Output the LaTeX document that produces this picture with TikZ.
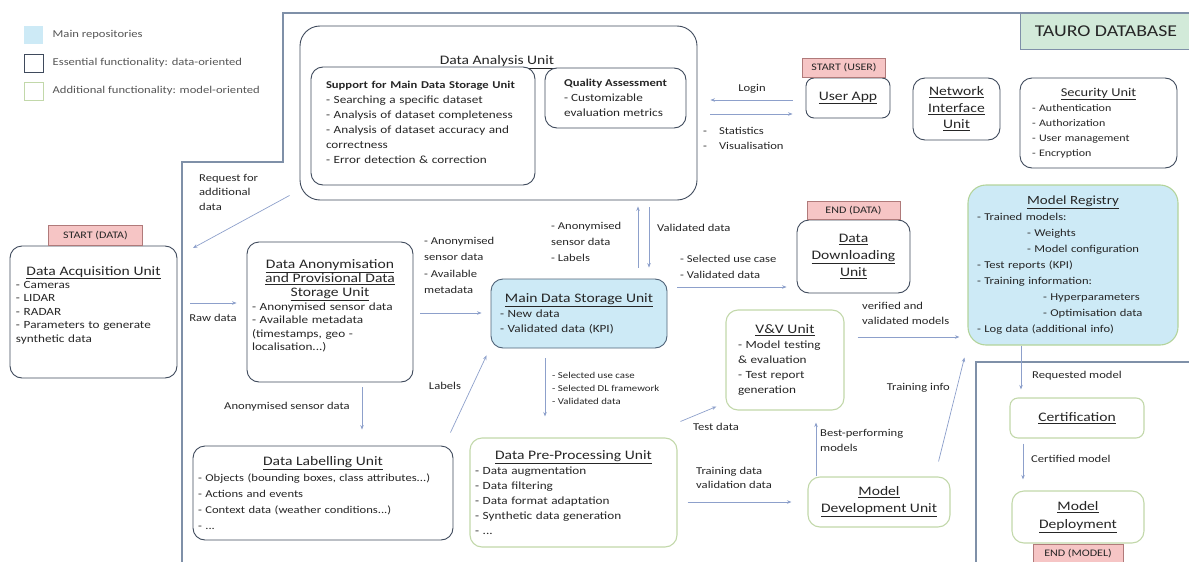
\documentclass[tikz,border=0pt]{standalone}
\usepackage{fontspec}
\setmainfont{Carlito}[FakeStretch=1.2]
\usetikzlibrary{arrows.meta,positioning,calc}
\setlength{\parindent}{0pt}

\definecolor{unitline}{HTML}{3F4A5C}
\definecolor{modline}{HTML}{C2D8AA}
\definecolor{repofill}{HTML}{CDEAF6}
\definecolor{repoline}{HTML}{4F6378}
\definecolor{regline}{HTML}{B3D49B}
\definecolor{tagfill}{HTML}{F6C5C5}
\definecolor{tagline}{HTML}{B07A7A}
\definecolor{flowc}{HTML}{8DA0CB}
\definecolor{framec}{HTML}{7F90A8}
\definecolor{mint}{HTML}{D2EAD9}
\definecolor{txtc}{HTML}{262626}
\definecolor{legc}{HTML}{555555}

\newcommand\boxtitlefont{\fontsize{13}{15}\selectfont}
\newcommand\boxlistfont{\fontsize{11}{15}\selectfont}
\newcommand\arrowlblfont{\fontsize{10.5}{15}\selectfont}
\newcommand\tagboxfont{\fontsize{10}{12}\selectfont}
\newcommand\legendfont{\fontsize{10.5}{12}\selectfont}
\newcommand\boxtitle[1]{{\boxtitlefont\underline{#1}}}

\tikzset{
  unit/.style={draw=unitline, line width=0.9pt, rounded corners=12pt, fill=white,
    inner sep=5pt, text=txtc, font=\boxlistfont},
  modunit/.style={unit, draw=modline, line width=1.1pt},
  repo/.style={unit, fill=repofill, draw=repoline},
  tagbox/.style={draw=tagline, fill=tagfill, line width=0.7pt, inner sep=0pt,
    font=\tagboxfont, text=txtc},
  flow/.style={draw=flowc, line width=0.7pt, -{Stealth[length=4.5pt,width=3.5pt]}},
  lbl/.style={inner sep=0pt, align=left, text=txtc, font=\arrowlblfont},
  frame/.style={draw=framec, line width=1.3pt},
  legsq/.style={minimum width=19pt, minimum height=18pt, inner sep=0pt, line width=1pt},
  legtxt/.style={inner sep=0pt, text=legc, font=\legendfont},
}

\begin{document}
\begin{tikzpicture}[x=1pt,y=-1pt]
\useasboundingbox (0,0) rectangle (1189,562);

% legend
\node[legsq, fill=repofill] (legrepo) at (33.5,35) {};
\node[legtxt, right=9pt of legrepo] (legrepotxt) {Main repositories};
\node[legsq, draw=unitline] (legdata) at (33.5,63) {};
\node[legtxt, right=9pt of legdata] (legdatatxt) {Essential functionality: data-oriented};
\node[legsq, draw=modline] (legmodel) at (33.5,91) {};
\node[legtxt, right=9pt of legmodel] (legmodeltxt) {Additional functionality: model-oriented};

% database frame
\draw[frame] (1189,13) -- (283,13) -- (283,162) -- (182,162) -- (182,562);
\draw[frame] (1189,362) -- (976,362) -- (976,562);
\node[draw=framec, fill=mint, line width=0.8pt, minimum width=172pt, minimum height=36pt,
  text=txtc, font=\fontsize{16.5}{18}\selectfont] (tauro) at (1106,31) {TAURO DATABASE};

% data analysis
\node[unit, minimum width=397pt, minimum height=174pt, rounded corners=20pt] (dau) at (498.5,113) {};
\node[inner sep=0pt, text=txtc] (dautitle) at (497,62) {\boxtitle{Data Analysis Unit}};
\node[unit, minimum width=224pt, minimum height=118pt, text width=194pt] (support) at (423,126)
  {\raggedright{\bfseries\fontsize{10.5}{14}\selectfont Support for Main Data Storage Unit\par}
   - Searching a specific dataset\\
   - Analysis of dataset completeness\\
   - Analysis of dataset accuracy and\\
   correctness\\
   - Error detection \& correction\par\vspace*{8pt}};
\node[unit, minimum width=141pt, minimum height=60pt, align=left] (quality) at (615.5,98)
  {\textbf{\fontsize{10.5}{15}\selectfont Quality Assessment}\\- Customizable\\evaluation metrics};

% user side
\node[unit, minimum width=84pt, minimum height=40pt, rounded corners=8pt] (uapp) at (848,98) {\boxtitle{User App}};
\node[tagbox, minimum width=83pt, minimum height=19pt, anchor=south] (uapptag) at ([xshift=-4pt]uapp.north) {START (USER)};
\node[unit, minimum width=87pt, minimum height=62pt, align=center,
  font=\fontsize{13}{16.5}\selectfont] (netif) at (956.5,109)
  {\underline{Network}\\\underline{Interface}\\\underline{Unit}};
\node[unit, minimum width=157pt, minimum height=90pt, text width=133pt,
  font=\fontsize{10}{15}\selectfont] (secu) at (1098.5,123)
  {\centering{\fontsize{12}{15}\selectfont\underline{Security Unit}\par}\raggedright
   - Authentication\\- Authorization\\- User management\\- Encryption};

% data flow
\node[unit, minimum width=167pt, minimum height=132pt, text width=155pt,
  font=\fontsize{11}{13.4}\selectfont] (acq) at (93.5,312)
  {\centering{\boxtitlefont\underline{Data Acquisition Unit}\par}\raggedright
   - Cameras\\- LIDAR\\- RADAR\\- Parameters to generate\\synthetic data\par\vspace*{14pt}};
\node[tagbox, minimum width=94pt, minimum height=20pt, anchor=south] (acqtag) at ([xshift=2pt]acq.north) {START (DATA)};
\node[unit, minimum width=166pt, minimum height=140pt, text width=156pt,
  font=\fontsize{11}{13.4}\selectfont] (anon) at (330,312)
  {\centering{\fontsize{13}{14}\selectfont\underline{Data Anonymisation}\\
   \underline{and Provisional Data}\\\underline{Storage Unit}\par}\raggedright
   - Anonymised sensor data\\- Available metadata\\(timestamps, geo -\\localisation...)\par\vspace*{12pt}};
\node[repo, minimum width=176pt, minimum height=69pt, text width=158pt] (main) at (579,313.5)
  {\centering{\boxtitlefont\underline{Main Data Storage Unit}\par}\raggedright
   - New data\\- Validated data (KPI)};
\node[unit, minimum width=113pt, minimum height=73pt, align=center,
  font=\fontsize{13}{17}\selectfont] (dl) at (853.5,256.5)
  {\underline{Data}\\\underline{Downloading}\\\underline{Unit}};
\node[tagbox, minimum width=93pt, minimum height=18pt, anchor=south] (dltag) at (dl.north) {END (DATA)};
\node[unit, minimum width=260pt, minimum height=94pt, text width=250pt,
  font=\fontsize{10.5}{16}\selectfont] (lab) at (323,493)
  {\centering{\boxtitlefont\underline{Data Labelling Unit}\par}\raggedright
   - Objects (bounding boxes, class attributes...)\\- Actions and events\\
   - Context data (weather conditions...)\\- ...};
\node[modunit, minimum width=207pt, minimum height=109pt, text width=197pt] (pre) at (573.5,492.5)
  {\centering{\boxtitlefont\underline{Data Pre-Processing Unit}\par}\raggedright
   - Data augmentation\\- Data filtering\\- Data format adaptation\\
   - Synthetic data generation\\- ...};

% model flow
\node[modunit, minimum width=118pt, minimum height=100pt, text width=94pt] (vv) at (785,360)
  {\centering{\boxtitlefont\underline{V\&V Unit}\par}\raggedright
   - Model testing\\\& evaluation\\- Test report\\generation};
\node[modunit, minimum width=142pt, minimum height=50pt, align=center,
  font=\fontsize{13}{17}\selectfont] (dev) at (879,502)
  {\underline{Model}\\\underline{Development Unit}};
\node[repo, draw=regline, line width=1.1pt, minimum width=210pt, minimum height=160pt,
  text width=192pt, rounded corners=18pt, font=\fontsize{10.5}{16}\selectfont] (reg) at (1073,265)
  {\centering{\fontsize{12.5}{16}\selectfont\underline{Model Registry}\par}\raggedright
   - Trained models:\\
   \hspace*{50pt}- Weights\\
   \hspace*{50pt}- Model configuration\\
   - Test reports (KPI)\\
   - Training information:\\
   \hspace*{66pt}- Hyperparameters\\
   \hspace*{66pt}- Optimisation data\\
   - Log data (additional info)};
\node[modunit, minimum width=134pt, minimum height=40pt, rounded corners=8pt] (cert) at (1077,418)
  {\boxtitle{Certification}};
\node[modunit, minimum width=132pt, minimum height=52pt, align=center,
  font=\fontsize{13}{18}\selectfont] (deploy) at (1078,517)
  {\underline{Model}\\\underline{Deployment}};
\node[tagbox, minimum width=90pt, minimum height=20pt, anchor=north] (deploytag) at (deploy.south) {END (MODEL)};

% connectors
\coordinate (reqend) at (193,248);
\draw[flow] ($(uapp.west)+(-13,2)$) -- ($(dau.east)+(13,-13)$);
\draw[flow] ($(dau.east)+(13,1)$) -- ($(uapp.west)+(-13,16)$);
\draw[flow] ($(dau.south west)+(-10,-5)$) -- (reqend);
\draw[flow] ($(acq.east)+(13,-9)$) -- ($(anon.west)+(-10,-9)$);
\draw[flow] ($(anon.east)+(7,1)$) -- ($(main.west)+(-9,-0.5)$);
\draw[flow] ($(main.north)+(59,-11)$) -- ($(dau.south)+(139.5,6)$);
\draw[flow] ($(dau.south)+(150.5,7)$) -- ($(main.north)+(70,-11)$);
\draw[flow] ($(main.east)+(10,-26.5)$) -- ($(dl.west)+(-10,30.5)$);
\draw[flow] ($(main.south)+(-34,10)$) -- ($(pre.north)+(-28.5,-21)$);
\draw[flow] ($(anon.south)+(32,5)$) -- ($(lab.north)+(39,-16)$);
\draw[flow] ($(lab.north east)+(-3,-13)$) -- ($(main.south west)+(-4,7)$);
\draw[flow] ($(pre.north east)+(3,-16)$) -- ($(vv.south west)+(-9,-4)$);
\draw[flow] ($(pre.east)+(10,9.5)$) -- ($(dev.west)+(-16,0)$);
\draw[flow] ($(dev.north)+(-63,0)$) -- ($(vv.south)+(31,12)$);
\draw[flow] ($(dev.north east)+(-12,-15)$) -- ($(reg.south west)+(-3,12)$);
\draw[flow] ($(vv.east)+(13,-23)$) -- ($(reg.west)+(-8,72)$);
\draw[flow] ($(reg.south)+(-52,0)$) -- ($(cert.north)+(-56,-8)$);
\draw[flow] ($(cert.south)+(-54,5)$) -- ($(deploy.north)+(-55,-11)$);

% connector labels
\node[lbl] (loginlbl) at (752,89) {Login};
\node[lbl, anchor=north west, font=\fontsize{10.5}{15}\selectfont] (statlbl) at (703,127)
  {-\hspace{12pt}Statistics\\-\hspace{12pt}Visualisation};
\node[lbl, anchor=north west, font=\fontsize{10.5}{14.5}\selectfont] (reqlbl) at (199,174)
  {Request for\\additional\\data};
\node[lbl] (rawlbl) at (213,318) {Raw data};
\node[lbl, anchor=north west, font=\fontsize{10.5}{16.5}\selectfont] (anonlbl) at (424,237)
  {- Anonymised\\sensor data\\- Available\\metadata};
\node[lbl, anchor=north west, font=\fontsize{10.5}{16}\selectfont] (uplbl) at (551,222)
  {- Anonymised\\sensor data\\- Labels};
\node[lbl, anchor=west] (validlbl) at (657,228) {Validated data};
\node[lbl, anchor=north west, font=\fontsize{10.5}{16}\selectfont] (dllbl) at (680,255)
  {- Selected use case\\- Validated data};
\node[lbl, anchor=north west, font=\fontsize{9}{13}\selectfont] (prelbl) at (552,372)
  {- Selected use case\\- Selected DL framework\\- Validated data};
\node[lbl] (anonsenslbl) at (287,407) {Anonymised sensor data};
\node[lbl] (labelslbl) at (445,386) {Labels};
\node[lbl] (testlbl) at (716,427) {Test data};
\node[lbl, anchor=north west, font=\fontsize{10.5}{14.5}\selectfont] (trainlbl) at (696,467)
  {Training data\\validation data};
\node[lbl, anchor=north west] (bestlbl) at (820,429) {Best-performing\\models};
\node[lbl, anchor=east] (infolbl) at (950,388) {Training info};
\node[lbl, anchor=north west] (verlbl) at (862,302) {verified and\\validated models};
\node[lbl, anchor=west] (reqmlbl) at (1032,376) {Requested model};
\node[lbl, anchor=west] (certlbl) at (1031,459) {Certified model};
\end{tikzpicture}
\end{document}
